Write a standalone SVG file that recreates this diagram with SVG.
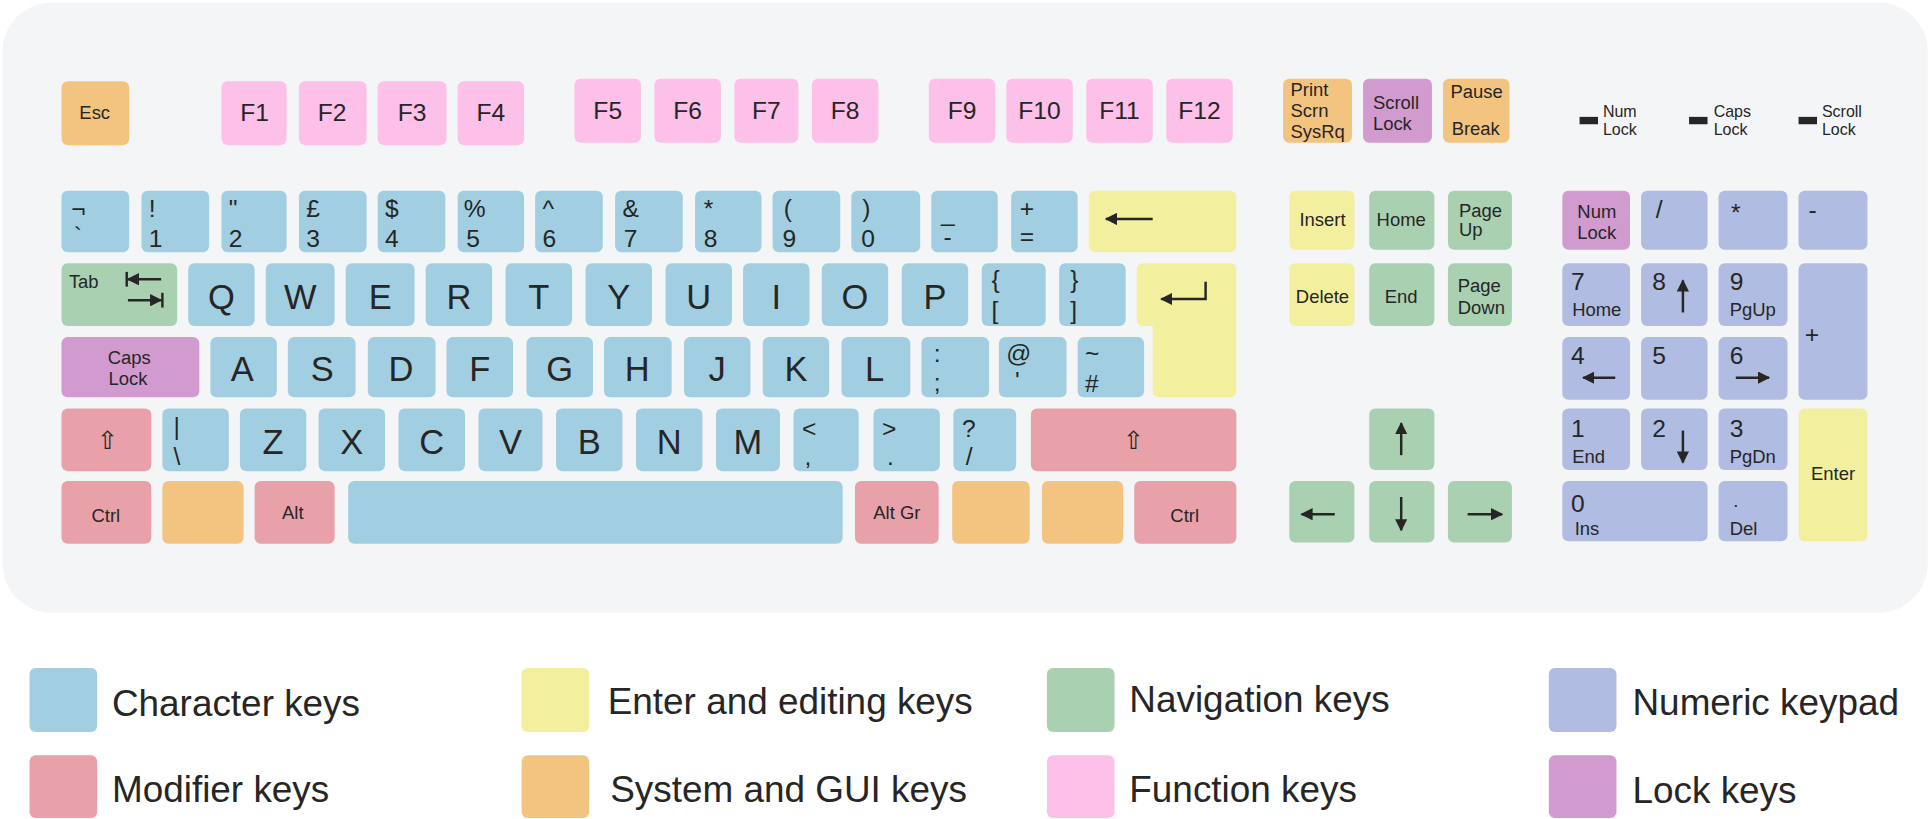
<svg xmlns="http://www.w3.org/2000/svg" width="1929" height="819" viewBox="0 0 1929 819">
<style>
text{font-family:"Liberation Sans",Arial,sans-serif;fill:#262626}
.k rect,.k path{stroke:none}
.c{fill:#a1cfe1}.m{fill:#e8a1a8}.e{fill:#f2ef9f}.s{fill:#f3c480}.n{fill:#a9d1b1}.f{fill:#fdc0e8}.p{fill:#b0bce1}.l{fill:#d19bd0}
.s15{font-size:15px}.s20{font-size:20px}.s21{font-size:21px}.big{font-size:28px}.lg{font-size:30px}
.mid{text-anchor:middle}
.ar{stroke:#262626;stroke-width:2;fill:none}
</style>
<defs>
<marker id="ah" viewBox="0 0 10 10" refX="9" refY="5" markerWidth="10" markerHeight="10" markerUnits="userSpaceOnUse" orient="auto"><path d="M0,0L10,5L0,10Z" fill="#262626"/></marker>
</defs>
<g transform="scale(1.2302)">
<rect x="2" y="2" width="1565" height="496" rx="40" fill="#f4f5f7"/>
<g id="keys" class="k">
<!-- row 0 -->
<g id="esc"><rect class="s" x="50" y="66" width="55" height="52" rx="5"/><text class="s15 mid" x="77" y="97">Esc</text></g>
<g id="fkeys" class="s20">
<rect class="f" x="180" y="66" width="53" height="52" rx="5"/><text class="mid" x="207" y="98">F1</text>
<rect class="f" x="243" y="66" width="55" height="52" rx="5"/><text class="mid" x="270" y="98">F2</text>
<rect class="f" x="307" y="66" width="56" height="52" rx="5"/><text class="mid" x="335" y="98">F3</text>
<rect class="f" x="372" y="66" width="54" height="52" rx="5"/><text class="mid" x="399" y="98">F4</text>
<rect class="f" x="467" y="64" width="54" height="52" rx="5"/><text class="mid" x="494" y="97">F5</text>
<rect class="f" x="532" y="64" width="54" height="52" rx="5"/><text class="mid" x="559" y="97">F6</text>
<rect class="f" x="597" y="64" width="52" height="52" rx="5"/><text class="mid" x="623" y="97">F7</text>
<rect class="f" x="660" y="64" width="54" height="52" rx="5"/><text class="mid" x="687" y="97">F8</text>
<rect class="f" x="755" y="64" width="54" height="52" rx="5"/><text class="mid" x="782" y="97">F9</text>
<rect class="f" x="818" y="64" width="54" height="52" rx="5"/><text class="mid" x="845" y="97">F10</text>
<rect class="f" x="883" y="64" width="54" height="52" rx="5"/><text class="mid" x="910" y="97">F11</text>
<rect class="f" x="948" y="64" width="54" height="52" rx="5"/><text class="mid" x="975" y="97">F12</text>
</g>
<g id="sysgroup" class="s15">
<rect class="s" x="1043" y="64" width="56" height="52" rx="5"/><text x="1049" y="78">Print</text><text x="1049" y="95">Scrn</text><text x="1049" y="112">SysRq</text>
<rect class="l" x="1108" y="64" width="56" height="52" rx="5"/><text x="1116" y="89">Scroll</text><text x="1116" y="106">Lock</text>
<rect class="s" x="1173" y="64" width="54" height="52" rx="5"/><text x="1179" y="80">Pause</text><text x="1180" y="110">Break</text>
</g>
<g id="leds" font-size="13">
<rect x="1284" y="95" width="15" height="6" fill="#262626"/><text x="1303" y="95" font-size="13">Num</text><text x="1303" y="110" font-size="13">Lock</text>
<rect x="1373" y="95" width="15" height="6" fill="#262626"/><text x="1393" y="95" font-size="13">Caps</text><text x="1393" y="110" font-size="13">Lock</text>
<rect x="1462" y="95" width="15" height="6" fill="#262626"/><text x="1481" y="95" font-size="13">Scroll</text><text x="1481" y="110" font-size="13">Lock</text>
</g>
<!-- row 1 -->
<g id="row1" class="s20">
<rect class="c" x="50" y="155" width="55" height="50" rx="5"/><text x="58" y="176">¬</text><text x="60" y="198">`</text>
<rect class="c" x="115" y="155" width="55" height="50" rx="5"/><text x="121" y="176">!</text><text x="121" y="201">1</text>
<rect class="c" x="180" y="155" width="53" height="50" rx="5"/><text x="186" y="176">"</text><text x="186" y="201">2</text>
<rect class="c" x="243" y="155" width="55" height="50" rx="5"/><text x="249" y="176">£</text><text x="249" y="201">3</text>
<rect class="c" x="307" y="155" width="55" height="50" rx="5"/><text x="313" y="176">$</text><text x="313" y="201">4</text>
<rect class="c" x="372" y="155" width="54" height="50" rx="5"/><text x="377" y="176">%</text><text x="379" y="201">5</text>
<rect class="c" x="435" y="155" width="55" height="50" rx="5"/><text x="441" y="176">^</text><text x="441" y="201">6</text>
<rect class="c" x="500" y="155" width="55" height="50" rx="5"/><text x="506" y="176">&amp;</text><text x="507" y="201">7</text>
<rect class="c" x="565" y="155" width="54" height="50" rx="5"/><text x="572" y="176">*</text><text x="572" y="201">8</text>
<rect class="c" x="628" y="155" width="55" height="50" rx="5"/><text x="637" y="176">(</text><text x="636" y="201">9</text>
<rect class="c" x="692" y="155" width="56" height="50" rx="5"/><text x="701" y="176">)</text><text x="700" y="201">0</text>
<rect class="c" x="757" y="155" width="54" height="50" rx="5"/><text x="765" y="180">_</text><text x="767" y="199">-</text>
<rect class="c" x="822" y="155" width="54" height="50" rx="5"/><text x="829" y="176">+</text><text x="829" y="199">=</text>
<rect class="e" x="885" y="155" width="120" height="50" rx="5"/>
</g>
<!-- row 2 -->
<g id="row2" class="big">
<rect class="n" x="50" y="214" width="94" height="51" rx="5"/><text class="s15" x="56" y="234">Tab</text>
<rect class="c" x="153" y="214" width="54" height="51" rx="5"/><text class="mid" x="180" y="251">Q</text>
<rect class="c" x="216" y="214" width="56" height="51" rx="5"/><text class="mid" x="244" y="251">W</text>
<rect class="c" x="281" y="214" width="56" height="51" rx="5"/><text class="mid" x="309" y="251">E</text>
<rect class="c" x="346" y="214" width="54" height="51" rx="5"/><text class="mid" x="373" y="251">R</text>
<rect class="c" x="411" y="214" width="54" height="51" rx="5"/><text class="mid" x="438" y="251">T</text>
<rect class="c" x="476" y="214" width="54" height="51" rx="5"/><text class="mid" x="503" y="251">Y</text>
<rect class="c" x="541" y="214" width="54" height="51" rx="5"/><text class="mid" x="568" y="251">U</text>
<rect class="c" x="604" y="214" width="54" height="51" rx="5"/><text class="mid" x="631" y="251">I</text>
<rect class="c" x="668" y="214" width="54" height="51" rx="5"/><text class="mid" x="695" y="251">O</text>
<rect class="c" x="733" y="214" width="54" height="51" rx="5"/><text class="mid" x="760" y="251">P</text>
<rect class="c" x="798" y="214" width="52" height="51" rx="5"/><text class="s20" x="806" y="234">{</text><text class="s20" x="806" y="259">[</text>
<rect class="c" x="861" y="214" width="54" height="51" rx="5"/><text class="s20" x="870" y="234">}</text><text class="s20" x="870" y="259">]</text>
<path class="e" d="M929,214H1000a5,5 0 0 1 5,5V318a5,5 0 0 1 -5,5H942a5,5 0 0 1 -5,-5V265H929a5,5 0 0 1 -5,-5V219a5,5 0 0 1 5,-5Z"/>
</g>
<!-- row 3 -->
<g id="row3" class="big">
<rect class="l" x="50" y="274" width="112" height="49" rx="5"/><text class="s15 mid" x="105" y="296">Caps</text><text class="s15 mid" x="104" y="313">Lock</text>
<rect class="c" x="171" y="274" width="54" height="49" rx="5"/><text class="mid" x="197" y="310">A</text>
<rect class="c" x="234" y="274" width="55" height="49" rx="5"/><text class="mid" x="262" y="310">S</text>
<rect class="c" x="299" y="274" width="55" height="49" rx="5"/><text class="mid" x="326" y="310">D</text>
<rect class="c" x="363" y="274" width="54" height="49" rx="5"/><text class="mid" x="390" y="310">F</text>
<rect class="c" x="428" y="274" width="54" height="49" rx="5"/><text class="mid" x="455" y="310">G</text>
<rect class="c" x="491" y="274" width="55" height="49" rx="5"/><text class="mid" x="518" y="310">H</text>
<rect class="c" x="556" y="274" width="54" height="49" rx="5"/><text class="mid" x="583" y="310">J</text>
<rect class="c" x="620" y="274" width="54" height="49" rx="5"/><text class="mid" x="647" y="310">K</text>
<rect class="c" x="684" y="274" width="56" height="49" rx="5"/><text class="mid" x="711" y="310">L</text>
<rect class="c" x="749" y="274" width="55" height="49" rx="5"/><text class="s20" x="759" y="294">:</text><text class="s20" x="759" y="318">;</text>
<rect class="c" x="812" y="274" width="55" height="49" rx="5"/><text class="s20" x="818" y="294">@</text><text class="s20" x="825" y="316">'</text>
<rect class="c" x="876" y="274" width="54" height="49" rx="5"/><text class="s20" x="882" y="294">~</text><text class="s20" x="882" y="319">#</text>
</g>
<!-- row 4 -->
<g id="row4" class="big">
<rect class="m" x="50" y="332" width="73" height="51" rx="5"/><text class="s20 mid" x="87" y="365" font-family="DejaVu Sans">⇧</text>
<rect class="c" x="132" y="332" width="54" height="51" rx="5"/><text class="s20" x="141" y="354">|</text><text class="s20" x="141" y="378">\</text>
<rect class="c" x="195" y="332" width="54" height="51" rx="5"/><text class="mid" x="222" y="369">Z</text>
<rect class="c" x="259" y="332" width="54" height="51" rx="5"/><text class="mid" x="286" y="369">X</text>
<rect class="c" x="324" y="332" width="54" height="51" rx="5"/><text class="mid" x="351" y="369">C</text>
<rect class="c" x="389" y="332" width="52" height="51" rx="5"/><text class="mid" x="415" y="369">V</text>
<rect class="c" x="452" y="332" width="54" height="51" rx="5"/><text class="mid" x="479" y="369">B</text>
<rect class="c" x="517" y="332" width="54" height="51" rx="5"/><text class="mid" x="544" y="369">N</text>
<rect class="c" x="582" y="332" width="52" height="51" rx="5"/><text class="mid" x="608" y="369">M</text>
<rect class="c" x="645" y="332" width="53" height="51" rx="5"/><text class="s20" x="652" y="355">&lt;</text><text class="s20" x="654" y="378">,</text>
<rect class="c" x="710" y="332" width="54" height="51" rx="5"/><text class="s20" x="717" y="355">&gt;</text><text class="s20" x="721" y="378">.</text>
<rect class="c" x="775" y="332" width="51" height="51" rx="5"/><text class="s20" x="782" y="355">?</text><text class="s20" x="785" y="378">/</text>
<rect class="m" x="838" y="332" width="167" height="51" rx="5"/><text class="s20 mid" x="921" y="365" font-family="DejaVu Sans">⇧</text>
</g>
<!-- row 5 -->
<g id="row5" class="s15">
<rect class="m" x="50" y="391" width="73" height="51" rx="5"/><text class="mid" x="86" y="424">Ctrl</text>
<rect class="s" x="132" y="391" width="66" height="51" rx="5"/>
<rect class="m" x="207" y="391" width="65" height="51" rx="5"/><text class="mid" x="238" y="422">Alt</text>
<rect class="c" x="283" y="391" width="402" height="51" rx="5"/>
<rect class="m" x="695" y="391" width="68" height="51" rx="5"/><text class="mid" x="729" y="422">Alt Gr</text>
<rect class="s" x="774" y="391" width="63" height="51" rx="5"/>
<rect class="s" x="847" y="391" width="66" height="51" rx="5"/>
<rect class="m" x="922" y="391" width="83" height="51" rx="5"/><text class="mid" x="963" y="424">Ctrl</text>
</g>
<!-- nav -->
<g id="nav" class="s15">
<rect class="e" x="1048" y="155" width="53" height="48" rx="5"/><text class="mid" x="1075" y="184">Insert</text>
<rect class="n" x="1113" y="155" width="53" height="48" rx="5"/><text class="mid" x="1139" y="184">Home</text>
<rect class="n" x="1177" y="155" width="52" height="48" rx="5"/><text x="1186" y="176">Page</text><text x="1186" y="192">Up</text>
<rect class="e" x="1048" y="214" width="53" height="51" rx="5"/><text class="mid" x="1075" y="246">Delete</text>
<rect class="n" x="1113" y="214" width="53" height="51" rx="5"/><text class="mid" x="1139" y="246">End</text>
<rect class="n" x="1177" y="214" width="52" height="51" rx="5"/><text x="1185" y="237">Page</text><text x="1185" y="255">Down</text>
<rect class="n" x="1113" y="332" width="53" height="50" rx="5"/>
<rect class="n" x="1048" y="391" width="53" height="50" rx="5"/>
<rect class="n" x="1113" y="391" width="53" height="50" rx="5"/>
<rect class="n" x="1177" y="391" width="52" height="50" rx="5"/>
</g>
<!-- numpad -->
<g id="numpad" class="s20">
<rect class="l" x="1270" y="155" width="55" height="48" rx="5"/><text class="s15 mid" x="1298" y="177">Num</text><text class="s15 mid" x="1298" y="194">Lock</text>
<rect class="p" x="1334" y="155" width="54" height="48" rx="5"/><text x="1346" y="177">/</text>
<rect class="p" x="1397" y="155" width="56" height="48" rx="5"/><text x="1407" y="180">*</text>
<rect class="p" x="1462" y="155" width="56" height="48" rx="5"/><text x="1470" y="177">-</text>
<rect class="p" x="1270" y="214" width="55" height="51" rx="5"/><text x="1277" y="236">7</text><text class="s15" x="1278" y="257">Home</text>
<rect class="p" x="1334" y="214" width="54" height="51" rx="5"/><text x="1343" y="236">8</text>
<rect class="p" x="1397" y="214" width="56" height="51" rx="5"/><text x="1406" y="236">9</text><text class="s15" x="1406" y="257">PgUp</text>
<rect class="p" x="1462" y="214" width="56" height="111" rx="5"/><text x="1467" y="279">+</text>
<rect class="p" x="1270" y="274" width="55" height="51" rx="5"/><text x="1277" y="296">4</text>
<rect class="p" x="1334" y="274" width="54" height="51" rx="5"/><text x="1343" y="296">5</text>
<rect class="p" x="1397" y="274" width="56" height="51" rx="5"/><text x="1406" y="296">6</text>
<rect class="p" x="1270" y="332" width="55" height="50" rx="5"/><text x="1277" y="355">1</text><text class="s15" x="1278" y="376">End</text>
<rect class="p" x="1334" y="332" width="54" height="50" rx="5"/><text x="1343" y="355">2</text>
<rect class="p" x="1397" y="332" width="56" height="50" rx="5"/><text x="1406" y="355">3</text><text class="s15" x="1406" y="376">PgDn</text>
<rect class="e" x="1462" y="332" width="56" height="108" rx="5"/><text class="s15 mid" x="1490" y="390">Enter</text>
<rect class="p" x="1270" y="391" width="118" height="49" rx="5"/><text x="1277" y="416">0</text><text class="s15" x="1280" y="435">Ins</text>
<rect class="p" x="1397" y="391" width="56" height="49" rx="5"/><text class="s15" x="1409" y="412">.</text><text class="s15" x="1406" y="435">Del</text>
</g>
</g>
<g id="connectors" class="ar">
<path d="M937,178H899" marker-end="url(#ah)"/>
<path d="M980,229V243H944" marker-end="url(#ah)"/>
<path d="M131,227H104" marker-end="url(#ah)"/><path d="M103,221V233"/>
<path d="M104,244H131" marker-end="url(#ah)"/><path d="M132,238V250"/>
<path d="M1139,370V344" marker-end="url(#ah)"/>
<path d="M1139,404V431" marker-end="url(#ah)"/>
<path d="M1085,418H1058" marker-end="url(#ah)"/>
<path d="M1193,418H1221" marker-end="url(#ah)"/>
<path d="M1368,254V228" marker-end="url(#ah)"/>
<path d="M1313,307H1287" marker-end="url(#ah)"/>
<path d="M1411,307H1438" marker-end="url(#ah)"/>
<path d="M1368,350V376" marker-end="url(#ah)"/>
</g>
<g id="legend" class="lg">
<rect class="c" x="24" y="543" width="55" height="52" rx="5"/><text x="91" y="582">Character keys</text>
<rect class="e" x="424" y="543" width="55" height="52" rx="5"/><text x="494" y="580">Enter and editing keys</text>
<rect class="n" x="851" y="543" width="55" height="52" rx="5"/><text x="918" y="579">Navigation keys</text>
<rect class="p" x="1259" y="543" width="55" height="52" rx="5"/><text x="1327" y="581">Numeric keypad</text>
<rect class="m" x="24" y="614" width="55" height="51" rx="5"/><text x="91" y="652">Modifier keys</text>
<rect class="s" x="424" y="614" width="55" height="51" rx="5"/><text x="496" y="652">System and GUI keys</text>
<rect class="f" x="851" y="614" width="55" height="51" rx="5"/><text x="918" y="652">Function keys</text>
<rect class="l" x="1259" y="614" width="55" height="51" rx="5"/><text x="1327" y="653">Lock keys</text>
</g>
</g>
</svg>
